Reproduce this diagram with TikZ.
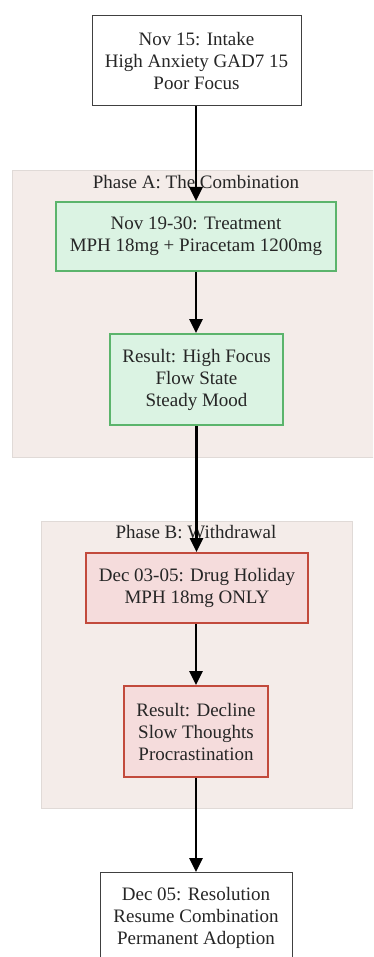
\documentclass[tikz,border=0pt]{standalone}
\usepackage{fontspec}
\setmainfont{Liberation Serif}
\usetikzlibrary{arrows.meta}
\definecolor{clusterfill}{HTML}{F4ECE9}
\definecolor{clusterdraw}{HTML}{E0DAD7}
\definecolor{greenfill}{HTML}{DBF3E3}
\definecolor{greendraw}{HTML}{5BB46C}
\definecolor{redfill}{HTML}{F5DCDC}
\definecolor{reddraw}{HTML}{C24A3C}
\definecolor{txt}{HTML}{262626}
\begin{document}
\begin{tikzpicture}[x=1pt,y=-1pt,
  every node/.style={font=\fontsize{19}{22}\selectfont, text=txt, align=center, inner sep=0pt},
  plainbox/.style={draw=black!75, line width=1pt, fill=white},
  greenbox/.style={draw=greendraw, line width=2pt, fill=greenfill},
  redbox/.style={draw=reddraw, line width=2pt, fill=redfill},
  cluster/.style={draw=clusterdraw, line width=0.8pt, fill=clusterfill},
  flow/.style={line width=2.6pt, -{Triangle[length=14pt,width=13pt]}}]
\useasboundingbox (0,0) rectangle (373,957);
\clip (0,0) rectangle (373,957);
\fill[white] (0,0) rectangle (373,957);
% clusters
\draw[cluster] (12,170) rectangle (376,457);
\draw[cluster] (41,521) rectangle (352,808);
\node (labA) at (196,182) {Phase A: The Combination};
\node (labB) at (196,532) {Phase B: Withdrawal};
% nodes
\node[plainbox, minimum width=209pt, minimum height=90pt] (intake) at (196.5,61) {Nov 15: Intake\\High Anxiety GAD7 15\\Poor Focus};
\node[greenbox, minimum width=280pt, minimum height=69pt] (treat) at (196,236.5) {Nov 19-30: Treatment\\MPH 18mg + Piracetam 1200mg};
\node[greenbox, minimum width=173pt, minimum height=91pt] (resA) at (196.5,379.5) {Result: High Focus\\Flow State\\Steady Mood};
\node[redbox, minimum width=222pt, minimum height=70pt] (drug) at (197,588) {Dec 03-05: Drug Holiday\\MPH 18mg ONLY};
\node[redbox, minimum width=144pt, minimum height=91pt] (resB) at (196,731.5) {Result: Decline\\Slow Thoughts\\Procrastination};
\node[plainbox, minimum width=192pt, minimum height=90pt, anchor=north] (resol) at (196,872) {Dec 05: Resolution\\Resume Combination\\Permanent Adoption};
% arrows
\draw[flow] (intake.south -| treat.north) -- (treat.north);
\draw[flow] (treat.south) -- (resA.north -| treat.south);
\draw[flow] (resA.south) -- (drug.north -| resA.south);
\draw[flow] (drug.south -| resB.north) -- (resB.north);
\draw[flow] (resB.south) -- (resol.north);
\end{tikzpicture}
\end{document}
